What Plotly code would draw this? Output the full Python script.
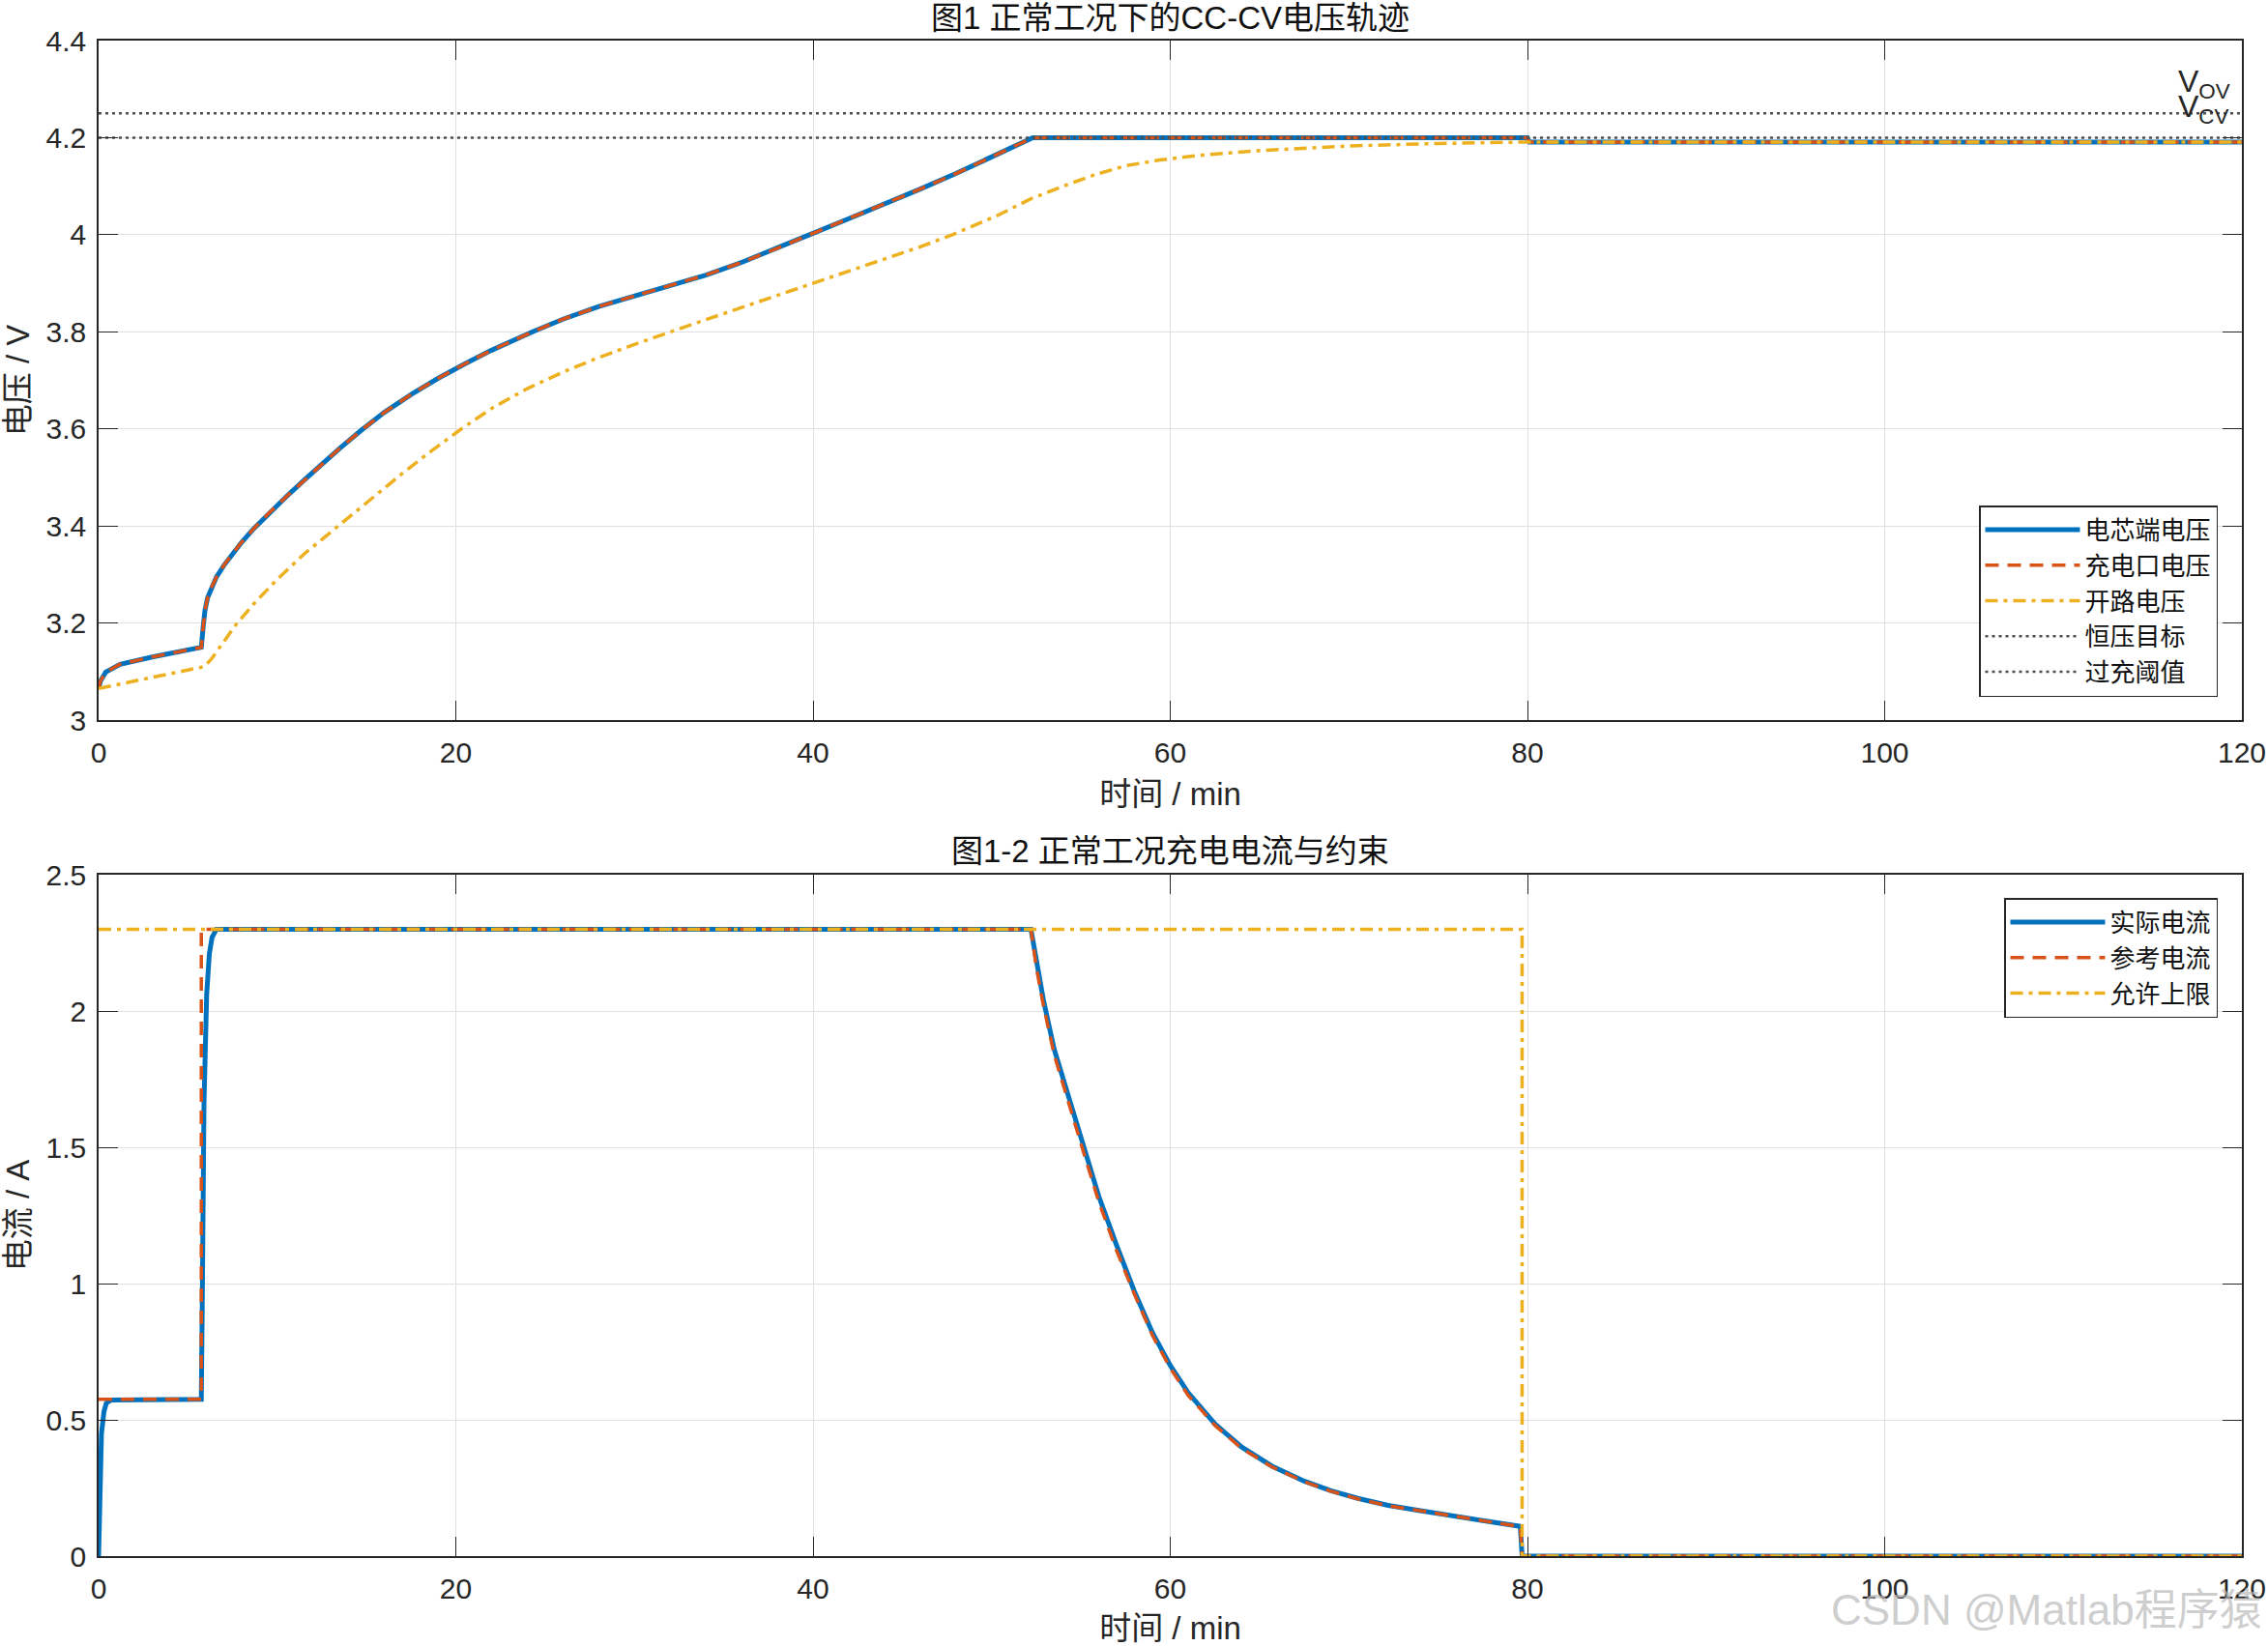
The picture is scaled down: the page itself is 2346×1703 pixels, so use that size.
import plotly.graph_objects as go

# ---------------- data: top panel (time / min, voltage / V) ----------------
t_cell = [0, 0.1, 0.4, 1.2, 3, 5.75, 5.85, 5.95, 6.1, 6.3, 6.6, 7.0, 7.5, 8.0, 8.7, 9.5,
          10.5, 11.5, 12.5, 13.5, 14.7, 16, 17.5, 19, 20.5, 22, 24.3, 26, 28, 30, 32, 34,
          36, 38, 40, 42, 44, 46, 48, 50, 52.3, 80, 80.1, 120]
v_cell = [3.065, 3.08, 3.099, 3.115, 3.13, 3.15, 3.19, 3.225, 3.252, 3.272, 3.295, 3.318,
          3.343, 3.366, 3.395, 3.425, 3.46, 3.494, 3.528, 3.56, 3.597, 3.634, 3.671,
          3.704, 3.734, 3.762, 3.80, 3.826, 3.852, 3.874, 3.895, 3.917, 3.943, 3.972,
          4.003, 4.033, 4.063, 4.094, 4.126, 4.16, 4.2, 4.2, 4.191, 4.191]

t_port = [0, 0.1, 0.4, 1.2, 3, 5.75, 5.85, 5.95, 6.1, 6.3, 6.6, 7.0, 7.5, 8.0, 8.7, 9.5,
          10.5, 11.5, 12.5, 13.5, 14.7, 16, 17.5, 19, 20.5, 22, 24.3, 26, 28, 30, 32, 34,
          36, 38, 40, 42, 44, 46, 48, 50, 52.3, 80, 80.1, 120]
v_port = [3.065, 3.08, 3.099, 3.115, 3.13, 3.15, 3.19, 3.225, 3.252, 3.272, 3.295, 3.318,
          3.343, 3.366, 3.395, 3.425, 3.46, 3.494, 3.528, 3.56, 3.597, 3.634, 3.671,
          3.704, 3.734, 3.762, 3.80, 3.826, 3.852, 3.874, 3.895, 3.917, 3.943, 3.972,
          4.003, 4.033, 4.063, 4.094, 4.126, 4.16, 4.2, 4.2, 4.191, 4.191]

t_ocv = [0, 5.9, 6.3, 6.7, 7.2, 7.7, 8.7, 10, 11.5, 13.4, 15, 17, 18.5, 20.2, 22, 24, 26,
         28, 30, 32, 34, 36, 38, 40, 42, 44, 46, 47.8, 48.6, 50.4, 52.2, 54, 55.8, 57.5,
         59.4, 62, 64.8, 70, 75, 80, 120]
v_ocv = [3.065, 3.11, 3.125, 3.145, 3.172, 3.197, 3.24, 3.29, 3.342, 3.40, 3.449, 3.508,
         3.551, 3.597, 3.642, 3.683, 3.717, 3.747, 3.774, 3.80, 3.825, 3.85, 3.875, 3.90,
         3.925, 3.95, 3.975, 4.0, 4.013, 4.041, 4.074, 4.10, 4.124, 4.142, 4.154, 4.165,
         4.173, 4.183, 4.188, 4.191, 4.191]

t_span = [0, 120]
v_cv_target = [4.2, 4.2]
v_ov_limit = [4.25, 4.25]

# ---------------- data: bottom panel (time / min, current / A) ----------------
t_act = [0, 0.05, 0.16, 0.3, 0.43, 0.7, 5.75, 5.8, 5.9, 6.05, 6.2, 6.35, 6.6, 52.2,
         52.5, 52.9, 53.5, 54.4, 55.2, 56, 57, 58, 59, 60, 61, 62.5, 64, 65.7, 67.5,
         69, 70.5, 72.2, 74, 75.7, 77.5, 79.6, 79.7, 120]
i_act = [0, 0.2, 0.45, 0.53, 0.561, 0.573, 0.575, 0.9, 1.66, 2.06, 2.21, 2.27, 2.3, 2.3,
         2.18, 2.04, 1.86, 1.66, 1.49, 1.32, 1.14, 0.97, 0.82, 0.70, 0.60, 0.485, 0.40,
         0.33, 0.275, 0.24, 0.212, 0.186, 0.167, 0.151, 0.13, 0.109, 0, 0]

t_ref = [0, 5.75, 5.75, 52.2, 52.5, 52.9, 53.5, 54.4, 55.2, 56, 57, 58, 59, 60, 61, 62.5,
         64, 65.7, 67.5, 69, 70.5, 72.2, 74, 75.7, 77.5, 79.6, 79.7, 120]
i_ref = [0.575, 0.575, 2.3, 2.3, 2.16, 2.02, 1.84, 1.64, 1.47, 1.30, 1.12, 0.96, 0.81,
         0.69, 0.59, 0.48, 0.395, 0.327, 0.273, 0.238, 0.21, 0.185, 0.166, 0.15, 0.129,
         0.108, 0, 0]

t_lim = [0, 79.7, 79.7, 120]
i_lim = [2.3, 2.3, 0, 0]

# ---------------- ticks & labels ----------------
x_ticks = [0, 20, 40, 60, 80, 100, 120]
x_tick_text = ["0", "20", "40", "60", "80", "100", "120"]
v_ticks = [3, 3.2, 3.4, 3.6, 3.8, 4, 4.2, 4.4]
v_tick_text = ["3", "3.2", "3.4", "3.6", "3.8", "4", "4.2", "4.4"]
i_ticks = [0, 0.5, 1, 1.5, 2, 2.5]
i_tick_text = ["0", "0.5", "1", "1.5", "2", "2.5"]

# ---------------- styling ----------------
W, H = 2346, 1703
FONT = "Liberation Sans, Arial, Noto Sans CJK SC, sans-serif"
BLUE, RED, YEL, GRAY = "#0072BD", "#D95319", "#EDB120", "#4d4d4d"
AX = "#262626"

x_dom = [102 / W, 2319 / W]
top_dom = [1 - 745 / H, 1 - 42 / H]
bot_dom = [1 - 1610 / H, 1 - 905 / H]

fig = go.Figure()

# top panel
fig.add_trace(go.Scatter(x=t_cell, y=v_cell, mode="lines", name="电芯端电压",
                         line=dict(color=BLUE, width=5), xaxis="x", yaxis="y", legend="legend"))
fig.add_trace(go.Scatter(x=t_port, y=v_port, mode="lines", name="充电口电压",
                         line=dict(color=RED, width=3.5, dash="14px,9px"), xaxis="x", yaxis="y", legend="legend"))
fig.add_trace(go.Scatter(x=t_ocv, y=v_ocv, mode="lines", name="开路电压",
                         line=dict(color=YEL, width=3.5, dash="13px,6px,4px,6px"), xaxis="x", yaxis="y", legend="legend"))
fig.add_trace(go.Scatter(x=t_span, y=v_cv_target, mode="lines", name="恒压目标",
                         line=dict(color=GRAY, width=2.5, dash="3px,4px"), xaxis="x", yaxis="y", legend="legend"))
fig.add_trace(go.Scatter(x=t_span, y=v_ov_limit, mode="lines", name="过充阈值",
                         line=dict(color=GRAY, width=2.5, dash="3px,4px"), xaxis="x", yaxis="y", legend="legend"))

# bottom panel
fig.add_trace(go.Scatter(x=t_act, y=i_act, mode="lines", name="实际电流",
                         line=dict(color=BLUE, width=5), xaxis="x2", yaxis="y2", legend="legend2"))
fig.add_trace(go.Scatter(x=t_ref, y=i_ref, mode="lines", name="参考电流",
                         line=dict(color=RED, width=3.5, dash="14px,9px"), xaxis="x2", yaxis="y2", legend="legend2"))
fig.add_trace(go.Scatter(x=t_lim, y=i_lim, mode="lines", name="允许上限",
                         line=dict(color=YEL, width=3.5, dash="13px,6px,4px,6px"), xaxis="x2", yaxis="y2", legend="legend2"))

axis_common = dict(
    showline=True, linecolor=AX, linewidth=1.5, mirror="ticks",
    ticks="inside", ticklen=20, tickwidth=1.3, tickcolor=AX,
    showgrid=True, gridcolor="#e0e0e0", gridwidth=1.3, zeroline=False,
    tickfont=dict(family=FONT, size=30, color=AX),
    title_font=dict(family=FONT, size=33, color=AX),
    automargin=False,
)
x_extra = dict(ticklabelstandoff=6, title=dict(text="时间 / min", standoff=16))

legend_common = dict(
    bgcolor="white", bordercolor=AX, borderwidth=1.5,
    font=dict(family=FONT, size=26, color="#111111"),
    itemwidth=98, tracegroupgap=0, xanchor="right",
)

annotations = [
    dict(text="图1 正常工况下的CC-CV电压轨迹", x=1210.5 / W, y=1 - 18 / H, xref="paper", yref="paper",
         xanchor="center", yanchor="middle", showarrow=False, font=dict(family=FONT, size=33, color="#111111")),
    dict(text="图1-2 正常工况充电电流与约束", x=1210.5 / W, y=1 - 881 / H, xref="paper", yref="paper",
         xanchor="center", yanchor="middle", showarrow=False, font=dict(family=FONT, size=33, color="#111111")),
    dict(text="V<sub>OV</sub>", x=116.3, y=4.25, xref="x", yref="y", xanchor="left", yanchor="bottom",
         yshift=8, showarrow=False, font=dict(family=FONT, size=32, color=AX)),
    dict(text="V<sub>CV</sub>", x=116.3, y=4.2, xref="x", yref="y", xanchor="left", yanchor="bottom",
         yshift=7, showarrow=False, font=dict(family=FONT, size=32, color=AX)),
    dict(text="CSDN @Matlab程序猿", x=2342 / W, y=1 - 1665 / H, xref="paper", yref="paper",
         xanchor="right", yanchor="middle", showarrow=False,
         font=dict(family=FONT, size=44, color="rgba(185,185,185,0.7)")),
]

fig.update_layout(
    width=W, height=H, autosize=False,
    margin=dict(l=0, r=0, t=0, b=0, pad=0, autoexpand=False),
    paper_bgcolor="white", plot_bgcolor="white",
    font=dict(family=FONT, color=AX),
    xaxis=dict(domain=x_dom, anchor="y", range=[0, 120], tickvals=x_ticks, ticktext=x_tick_text,
               **x_extra, **axis_common),
    yaxis=dict(domain=top_dom, anchor="x", range=[3, 4.4], tickvals=v_ticks, ticktext=v_tick_text,
               ticklabelstandoff=5, title=dict(text="电压 / V", standoff=7), **axis_common),
    xaxis2=dict(domain=x_dom, anchor="y2", range=[0, 120], tickvals=x_ticks, ticktext=x_tick_text,
                **x_extra, **axis_common),
    yaxis2=dict(domain=bot_dom, anchor="x2", range=[0, 2.5], tickvals=i_ticks, ticktext=i_tick_text,
                ticklabelstandoff=5, title=dict(text="电流 / A", standoff=7), **axis_common),
    legend=dict(x=2294 / W, y=1 - 721 / H, yanchor="bottom", **legend_common),
    legend2=dict(x=2294 / W, y=1 - 929 / H, yanchor="top", **legend_common),
    annotations=annotations,
    showlegend=True,
)

fig.write_html(
    "out.html",
    config={"displayModeBar": False},
    post_script="document.body.style.margin='0px';document.body.style.padding='0px';"
                "document.body.style.overflow='hidden';",
)
